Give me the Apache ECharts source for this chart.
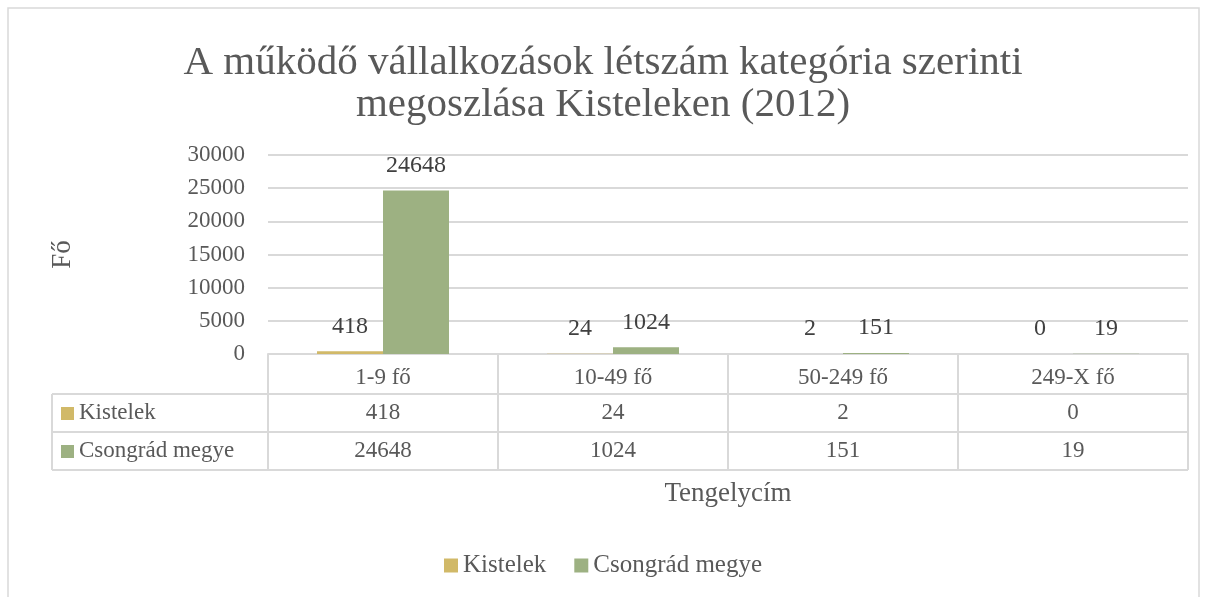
<!DOCTYPE html>
<html><head><meta charset="utf-8">
<script src="https://cdn.jsdelivr.net/npm/echarts@6/dist/echarts.min.js"></script>
<style>html,body{margin:0;padding:0;background:#fff}#c{width:1206px;height:597px}</style>
</head><body><div id="c"></div>
<script>
const categories = ['1-9 fő', '10-49 fő', '50-249 fő', '249-X fő'];
const seriesNames = ['Kistelek', 'Csongrád megye'];
const kistelek = [418, 24, 2, 0];
const csongrad = [24648, 1024, 151, 19];
const yTicks = { min: 0, max: 30000, interval: 5000 };

const FONT = '"Liberation Serif", "DejaVu Serif", serif';
const TXT = '#595959';
const LINE = '#D9D9D9';
const COLORS = ['#D1B968', '#9DB182'];
const FS = 23;

const chart = echarts.init(document.getElementById('c'), null, {renderer: 'canvas'});
const G = {left: 268, right: 18, top: 155, bottom: 243};

function tableGraphics() {
  const xL = 52, xR = 1188;
  const rows = [394, 432, 470];
  const g = [];
  rows.forEach(y => g.push({type: 'line', shape: {x1: xL, y1: y, x2: xR, y2: y}, style: {stroke: LINE, lineWidth: 2}}));
  g.push({type: 'line', shape: {x1: xL, y1: 394, x2: xL, y2: 470}, style: {stroke: LINE, lineWidth: 2}});
  seriesNames.forEach((n, i) => {
    const cy = 413 + i * 38;
    g.push({type: 'rect', shape: {x: 61, y: cy - 6, width: 13, height: 13}, style: {fill: COLORS[i]}});
    g.push({type: 'text', style: {text: n, x: 79, y: cy, textVerticalAlign: 'middle', font: FS + 'px ' + FONT, fill: TXT}});
  });
  g.push({type: 'rect', shape: {x: 8, y: 8, width: 1191, height: 620}, style: {fill: 'none', stroke: LINE, lineWidth: 1.5}, z: -1});
  return g;
}

const valAxisBase = {
  type: 'category', position: 'bottom', data: categories,
  axisLine: {show: false}, axisTick: {show: false}, splitLine: {show: false}
};

chart.setOption({
  backgroundColor: '#fff',
  animation: false,
  title: {
    text: 'A működő vállalkozások létszám kategória szerinti\nmegoszlása Kisteleken (2012)',
    left: 'center', top: 37,
    textStyle: {fontFamily: FONT, fontSize: 41, fontWeight: 'normal', color: TXT, lineHeight: 42}
  },
  legend: {
    bottom: 14, left: 'center', itemWidth: 14, itemHeight: 14, itemGap: 28,
    icon: 'rect',
    textStyle: {fontFamily: FONT, fontSize: 25, color: TXT},
    data: seriesNames
  },
  grid: G,
  xAxis: [
    Object.assign({}, valAxisBase, {
      axisLine: {show: true, lineStyle: {color: LINE, width: 2}},
      axisTick: {show: true, interval: 0, length: 116, lineStyle: {color: LINE, width: 2}},
      axisLabel: {interval: 0, margin: 12, fontFamily: FONT, fontSize: FS, color: TXT},
      name: 'Tengelycím', nameLocation: 'middle', nameGap: 126,
      nameTextStyle: {fontFamily: FONT, fontSize: 27, color: TXT}
    }),
    Object.assign({}, valAxisBase, {
      offset: 40, data: kistelek.map(String),
      axisLabel: {interval: 0, margin: 7, fontFamily: FONT, fontSize: FS, color: TXT}
    }),
    Object.assign({}, valAxisBase, {
      offset: 78, data: csongrad.map(String),
      axisLabel: {interval: 0, margin: 7, fontFamily: FONT, fontSize: FS, color: TXT}
    })
  ],
  yAxis: {
    type: 'value', min: yTicks.min, max: yTicks.max, interval: yTicks.interval,
    axisLine: {show: false}, axisTick: {show: false},
    splitLine: {lineStyle: {color: LINE, width: 2}},
    axisLabel: {margin: 23, fontFamily: FONT, fontSize: FS, color: TXT, formatter: v => String(v)},
    name: 'Fő', nameLocation: 'middle', nameGap: 192, nameRotate: 90,
    nameTextStyle: {fontFamily: FONT, fontSize: 27, color: TXT}
  },
  series: [
    {name: seriesNames[0], type: 'bar', xAxisIndex: 0, data: kistelek, barWidth: 66, barGap: '0%',
     itemStyle: {color: COLORS[0]},
     label: {show: true, position: 'top', distance: 13, fontFamily: FONT, fontSize: 24, color: '#404040'}},
    {name: seriesNames[1], type: 'bar', xAxisIndex: 0, data: csongrad, barWidth: 66, barGap: '0%',
     itemStyle: {color: COLORS[1]},
     label: {show: true, position: 'top', distance: 13, fontFamily: FONT, fontSize: 24, color: '#404040'}}
  ],
  graphic: tableGraphics()
});
</script></body></html>
